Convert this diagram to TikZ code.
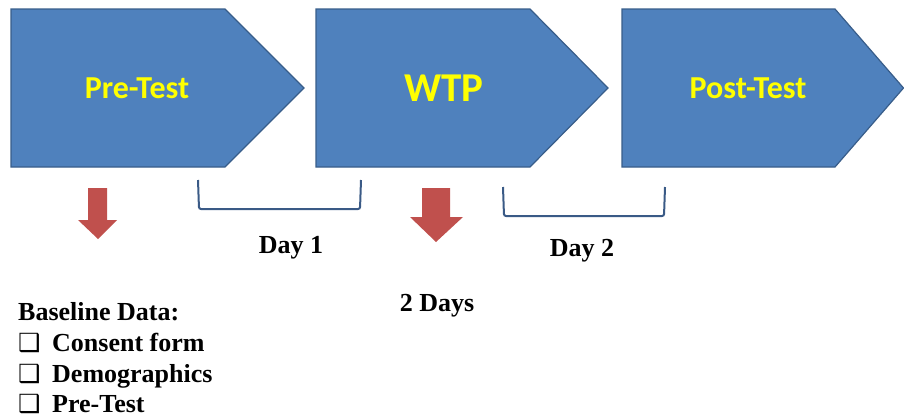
\documentclass[tikz,border=0pt]{standalone}
\usepackage{fontspec}
\setmainfont{Liberation Serif}
\newfontfamily\calib{Carlito}
\newfontfamily\dejavu{DejaVu Sans}
\definecolor{boxblue}{HTML}{4F81BD}
\definecolor{boxedge}{HTML}{385D8A}
\definecolor{arrred}{HTML}{C0504D}
\definecolor{brk}{HTML}{3A5A86}
\definecolor{ylw}{HTML}{FFFF00}
\newcommand{\chkbox}{\makebox[34pt][l]{\dejavu\fontsize{25}{26}\selectfont ❑}}
\begin{document}
\begin{tikzpicture}[x=1pt,y=-1pt,
  chev/.style={fill=boxblue,draw=boxedge,line width=1.2pt,line join=miter},
  downarrow/.style={fill=arrred,draw=none},
  bracket/.style={draw=brk,line width=2pt,rounded corners=2pt},
  chevtext/.style={font=\calib\bfseries\fontsize{32}{36}\selectfont,text=ylw},
  lbl/.style={font=\bfseries\fontsize{26}{30}\selectfont,anchor=base},
  listitem/.style={font=\bfseries\fontsize{26}{30}\selectfont,anchor=base west,inner sep=0pt}]
\useasboundingbox (0,0) rectangle (904,418);
% chevrons
\draw[chev] (11,9) -- (225,9) -- (304,88) -- (225,167) -- (11,167) -- cycle;
\draw[chev] (316,9) -- (530,9) -- (608,88) -- (530,167) -- (316,167) -- cycle;
\draw[chev] (622,9) -- (835,9) -- (903.5,88) -- (835,167) -- (622,167) -- cycle;
\node[chevtext] (pre) at (137,88) {Pre-Test};
\node[chevtext,font=\calib\bfseries\fontsize{41}{44}\selectfont] (wtp) at (444,88) {WTP};
\node[chevtext] (post) at (748,88) {Post-Test};
% red arrows
\draw[downarrow] (88,188) -- (107,188) -- (107,220) -- (117,220) -- (98,239) -- (78,220) -- (88,220) -- cycle;
\draw[downarrow] (422,188) -- (450,188) -- (450,217) -- (463,217) -- (436,242) -- (410,217) -- (422,217) -- cycle;
% brackets
\draw[bracket] (198,180) -- (199,209) -- (360,209) -- (361,180);
\draw[bracket] (503,187) -- (504,216) -- (664,216) -- (665,187);
% labels
\node[lbl] (day1) at (291,253) {Day 1};
\node[lbl] (day2) at (582,256) {Day 2};
\node[lbl] (days) at (437,311) {2 Days};
\node[listitem] (base) at (18,320) {Baseline Data:};
\node[listitem] (c1) at (18,351) {\chkbox Consent form};
\node[listitem] (c2) at (18,382) {\chkbox Demographics};
\node[listitem] (c3) at (18,412) {\chkbox Pre-Test};
\end{tikzpicture}
\end{document}
